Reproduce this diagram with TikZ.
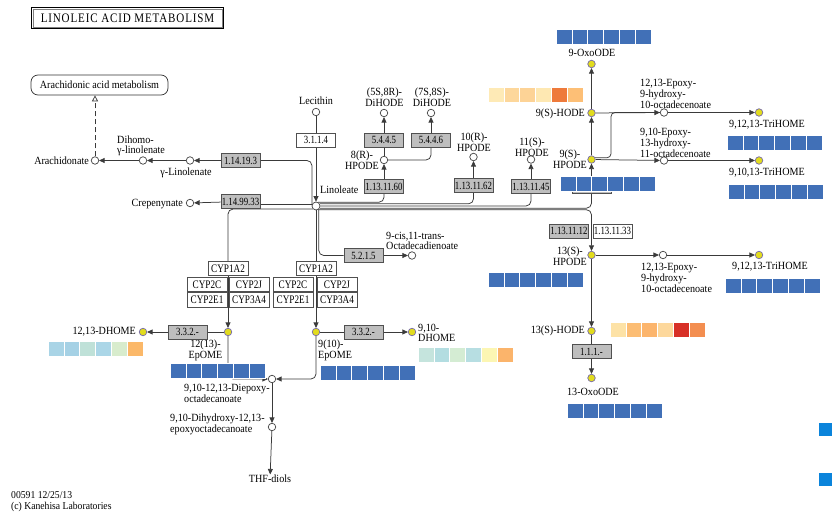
\documentclass[tikz,border=0pt]{standalone}
\usepackage{fontspec}
\setmainfont{Liberation Serif}[FakeStretch=0.92]
\newfontfamily\titlefont{Liberation Serif}[FakeStretch=0.85,LetterSpace=6.5]
\newfontfamily\boxfont{Liberation Serif}[FakeStretch=0.8]
\usetikzlibrary{arrows.meta,calc}

\definecolor{linec}{HTML}{3A3A3A}
\definecolor{boxline}{HTML}{505050}
\definecolor{enzfill}{HTML}{BEBEBE}
\definecolor{cpdline}{HTML}{404040}
\definecolor{ylw}{HTML}{E2DC1E}
\definecolor{ylwline}{HTML}{7468A8}
\definecolor{barblue}{HTML}{4170B7}
\definecolor{legblue}{HTML}{0B84DB}
% expression colours
\definecolor{hA1}{HTML}{FEEAB6}\definecolor{hA2}{HTML}{FDD79B}\definecolor{hA3}{HTML}{FDD396}
\definecolor{hA4}{HTML}{FEE8B2}\definecolor{hA5}{HTML}{EE7A3B}\definecolor{hA6}{HTML}{FDBF76}
\definecolor{hB1}{HTML}{FDE2A6}\definecolor{hB2}{HTML}{FCBD74}\definecolor{hB3}{HTML}{FCB56C}
\definecolor{hB4}{HTML}{FDD89C}\definecolor{hB5}{HTML}{D73027}\definecolor{hB6}{HTML}{F38E50}
\definecolor{hC1}{HTML}{A9D4E6}\definecolor{hC2}{HTML}{A5D1E5}\definecolor{hC3}{HTML}{BFE1D8}
\definecolor{hC4}{HTML}{ABD6E7}\definecolor{hC5}{HTML}{D8ECCD}\definecolor{hC6}{HTML}{FBB869}
\definecolor{hD1}{HTML}{C5E4DD}\definecolor{hD2}{HTML}{B3DDE1}\definecolor{hD3}{HTML}{D4ECD3}
\definecolor{hD4}{HTML}{B7DEE2}\definecolor{hD5}{HTML}{FCF6B3}\definecolor{hD6}{HTML}{FBB46B}

\pgfdeclarelayer{bg}
\pgfsetlayers{bg,main}

% a row of six coloured cells, top-left corner at (#1,#2)
\newcommand{\cellrow}[3]{%
  \foreach \cc [count=\ii from 0] in {#3} {
    \fill[fill=\cc] ({#1+\ii*15.83},#2) rectangle ++(15.83,15);
    \draw[white, line width=0.6pt] ({#1+\ii*15.83},#2) rectangle ++(15.83,15);
  }}
\newcommand{\bluebar}[2]{\cellrow{#1}{#2}{barblue,barblue,barblue,barblue,barblue,barblue}}

\tikzset{
  cpd/.style={circle, draw=cpdline, fill=white, line width=0.7pt, minimum size=7.5pt, inner sep=0pt},
  ycpd/.style={cpd, fill=ylw, draw=ylwline},
  enz/.style={rectangle, draw=boxline, fill=enzfill, line width=0.7pt, minimum width=39pt,
    minimum height=14pt, inner sep=0pt, font=\boxfont\fontsize{11}{11}\selectfont},
  wenz/.style={enz, fill=white},
  cyp/.style={wenz, minimum width=40pt, minimum height=14.5pt, font=\boxfont\fontsize{11.5}{11}\selectfont},
  lbl/.style={inner sep=0pt, font=\fontsize{11}{9.5}\selectfont, align=center, text=black},
  rx/.style={draw=linec, line width=0.75pt},
  arr/.style={rx, -{Triangle[length=5.5pt,width=5pt]}},
}

\begin{document}
\begin{tikzpicture}[x=1pt,y=-1pt]
\useasboundingbox (0,0) rectangle (832,518);
\begin{pgfonlayer}{bg}
\fill[white] (0,0) rectangle (832,518);
\end{pgfonlayer}

% ---- title and map link
\node[draw=black, line width=1.6pt, minimum width=192pt, minimum height=21pt, inner sep=0pt,
  font=\titlefont\fontsize{13}{13}\selectfont] (title) at (127.5,18) {LINOLEIC ACID METABOLISM};
\draw[gray, line width=0.5pt] ([shift={(2.2,2.2)}]title.north west) rectangle ([shift={(-2.2,-2.2)}]title.south east);
\node[lbl, draw=black!80, line width=0.7pt, rounded corners=7pt, minimum width=137pt, minimum height=20pt] (aamap) at (99.5,85) {Arachidonic acid metabolism};

% ---- upper left: desaturation branch
\node[cpd] (arach) at (95,160.5) {};
\node[lbl, anchor=east] (arachL) at (89,161) {Arachidonate};
\node[cpd] (dgla) at (143,160.5) {};
\node[lbl, anchor=south west, align=left] (dglaL) at (117,156) {Dihomo-\\γ-linolenate};
\node[cpd] (gla) at (190,160.5) {};
\node[lbl] (glaL) at (186,173) {γ-Linolenate};
\node[enz] (e11419) at (240.5,160.5) {1.14.19.3};
\node[cpd] (crep) at (190,203) {};
\node[lbl, anchor=east] (crepL) at (183,204) {Crepenynate};
\node[enz] (e114993) at (240.5,201.5) {1.14.99.33};

% ---- linoleate and lecithin
\node[cpd] (lec) at (316,112) {};
\node[lbl] (lecL) at (316,101) {Lecithin};
\node[wenz] (e3114) at (316,140) {3.1.1.4};
\node[cpd, minimum size=8pt] (lin) at (316,206) {};
\node[lbl, anchor=west] (linL) at (320,190) {Linoleate};

% ---- 8(R), 10(R), 11(S) hydroperoxides
\node[cpd] (dh58) at (384,113) {};
\node[lbl] (dh58L) at (384.5,97) {(5S,8R)-\\DiHODE};
\node[enz] (e5445) at (384,140) {5.4.4.5};
\node[cpd] (dh78) at (431,113) {};
\node[lbl] (dh78L) at (432,97) {(7S,8S)-\\DiHODE};
\node[enz] (e5446) at (431,140) {5.4.4.6};
\node[cpd] (hp8) at (384,160) {};
\node[lbl, anchor=east] (hp8L) at (379,160.5) {8(R)-\\HPODE};
\node[enz] (e60) at (384,186.5) {1.13.11.60};
\node[cpd] (hp10) at (473.5,157) {};
\node[lbl] (hp10L) at (474,142) {10(R)-\\HPODE};
\node[enz] (e62) at (473.5,185.5) {1.13.11.62};
\node[cpd] (hp11) at (531,159.5) {};
\node[lbl] (hp11L) at (532,147) {11(S)-\\HPODE};
\node[enz] (e45) at (531,186.5) {1.13.11.45};

% ---- 9(S) branch
\node[ycpd] (oxo9) at (591.5,64) {};
\node[lbl] (oxo9L) at (592,53) {9-OxoODE};
\node[ycpd] (hode9) at (591.5,113) {};
\node[lbl, anchor=east] (hode9L) at (585,113.5) {9(S)-HODE};
\node[ycpd] (hp9) at (591.5,159.5) {};
\node[lbl, anchor=east] (hp9L) at (587,159) {9(S)-\\HPODE};
\node[enz] (e58) at (591.5,186.5) {};
\node[cpd] (ep1) at (664,112.5) {};
\node[lbl, anchor=west, align=left] (ep1L) at (640,94) {12,13-Epoxy-\\9-hydroxy-\\10-octadecenoate};
\node[ycpd] (th1) at (759,112.5) {};
\node[lbl] (th1L) at (767,125) {9,12,13-TriHOME};
\node[cpd] (ep2) at (664,160.5) {};
\node[lbl, anchor=west, align=left] (ep2L) at (640,143) {9,10-Epoxy-\\13-hydroxy-\\11-octadecenoate};
\node[ycpd] (th2) at (759,160.5) {};
\node[lbl] (th2L) at (767,173) {9,10,13-TriHOME};
\coordinate (hpj) at (611,112.5);

% ---- 13(S) branch
\node[enz] (e12) at (569,231) {1.13.11.12};
\node[wenz] (e33) at (612.5,231) {1.13.11.33};
\node[ycpd] (hp13) at (591.5,255) {};
\node[lbl, anchor=east] (hp13L) at (587,256) {13(S)-\\HPODE};
\node[cpd] (ep3) at (663,255) {};
\node[lbl, anchor=west, align=left] (ep3L) at (641,278) {12,13-Epoxy-\\9-hydroxy-\\10-octadecenoate};
\node[ycpd] (th3) at (759,255) {};
\node[lbl] (th3L) at (770,267) {9,12,13-TriHOME};
\node[ycpd] (hode13) at (591.5,331) {};
\node[lbl, anchor=east] (hode13L) at (585,331) {13(S)-HODE};
\node[enz] (e111) at (591.5,351.5) {1.1.1.-};
\node[ycpd] (oxo13) at (591.5,378) {};
\node[lbl] (oxo13L) at (593,392) {13-OxoODE};

% ---- epoxygenase branches
\node[cyp] (cA1) at (228,268.5) {CYP1A2};
\node[cyp] (cA2) at (207,284.5) {CYP2C};
\node[cyp] (cA3) at (249,284.5) {CYP2J};
\node[cyp] (cA4) at (207,300) {CYP2E1};
\node[cyp] (cA5) at (249,300) {CYP3A4};
\node[ycpd] (epo12) at (228,332) {};
\node[lbl] (epo12L) at (205.5,350.5) {12(13)-\\EpOME};
\node[enz] (e332a) at (187.5,332) {3.3.2.-};
\node[ycpd] (dh12) at (143,332) {};
\node[lbl, anchor=east] (dh12L) at (136,332) {12,13-DHOME};

\node[cyp] (cB1) at (316,268.5) {CYP1A2};
\node[cyp] (cB2) at (293,284.5) {CYP2C};
\node[cyp] (cB3) at (337,284.5) {CYP2J};
\node[cyp] (cB4) at (293,300) {CYP2E1};
\node[cyp] (cB5) at (337,300) {CYP3A4};
\node[ycpd] (epo9) at (316,332) {};
\node[lbl, anchor=west, align=left] (epo9L) at (318,350.5) {9(10)-\\EpOME};
\node[enz] (e332b) at (363.5,332) {3.3.2.-};
\node[ycpd] (dh9) at (412,332) {};
\node[lbl, anchor=west, align=left] (dh9L) at (418,333) {9,10-\\DHOME};
\node[enz] (e5215) at (363.5,255.5) {5.2.1.5};
\node[cpd] (octa) at (412,255.5) {};
\node[lbl, anchor=west, align=left] (octaL) at (386,241) {9-cis,11-trans-\\Octadecadienoate};

\node[cpd] (diep) at (272,379) {};
\node[lbl, anchor=west, align=left] (diepL) at (184,393) {9,10-12,13-Diepoxy-\\octadecanoate};
\node[cpd] (dihy) at (272,427) {};
\node[lbl, anchor=west, align=left] (dihyL) at (170,424.5) {9,10-Dihydroxy-12,13-\\epoxyoctadecanoate};
\node[lbl] (thf) at (270,478.5) {THF-diols};

% ---- footer and legend marks
\node[lbl, anchor=west, align=left, font=\fontsize{10.5}{11}\selectfont] (foot) at (11,502) {00591 12/25/13\\(c) Kanehisa Laboratories};
\node[fill=legblue, minimum size=13pt, inner sep=0pt, anchor=north west] (leg1) at (819,423) {};
\node[fill=legblue, minimum size=13pt, inner sep=0pt, anchor=north west] (leg2) at (819,473) {};

% ---- data bars
\bluebar{556}{29}
\cellrow{488}{87}{hA1,hA2,hA3,hA4,hA5,hA6}
\bluebar{727}{135}
\bluebar{560}{176}
\bluebar{728}{184}
\bluebar{488}{272}
\bluebar{725}{278}
\cellrow{610}{322}{hB1,hB2,hB3,hB4,hB5,hB6}
\bluebar{567}{403}
\cellrow{48}{341}{hC1,hC2,hC3,hC4,hC5,hC6}
\bluebar{170}{363}
\bluebar{320}{365}
\cellrow{418}{347}{hD1,hD2,hD3,hD4,hD5,hD6}

% ---- reactions
\begin{pgfonlayer}{bg}
\draw[rx, dash pattern=on 5pt off 3pt, -{Triangle[open,length=6pt,width=6pt]}] (arach) -- (arach |- aamap.south);
\draw[arr] (e11419) -- (gla);
\draw[arr] (gla) -- (dgla);
\draw[arr] (dgla) -- (arach);
\draw[rx, rounded corners=5pt] (e11419.east) -| (lin.160);
\draw[arr] (e114993) -- (crep);
\draw[rx] (lin.160) -- (lin.160 -| e114993.east);
\draw[rx, rounded corners=5pt] (lin.-135) -| (cA1.north);
\draw[rx] (lec) -- (e3114);
\draw[arr] (e3114) -- (lin);

\draw[rx, rounded corners=5pt] (lin.60) -| (e60.south);
\draw[rx, rounded corners=5pt] (lin.30) -| (e62.south);
\draw[rx, rounded corners=5pt] (lin.0) -| (e45.south);
\draw[rx, rounded corners=5pt] (lin.-30) -| (e58.south);
\draw[arr, rounded corners=5pt] (lin.-60) -| (hp13);
\draw[rx] (lin) -- (cB1);
\draw[rx, rounded corners=5pt] (lin.-50) |- (e5215);
\draw[arr] (e5215) -- (octa);

\draw[arr] (e60) -- (hp8);
\draw[rx] (hp8) -- (e5445);
\draw[rx, rounded corners=5pt] (hp8) -| (e5446);
\draw[arr] (e5445) -- (dh58);
\draw[arr] (e5446) -- (dh78);
\draw[arr] (e62) -- (hp10);
\draw[arr] (e45) -- (hp11);

\draw[arr] (e58) -- (hp9);
\draw[arr] (hp9) -- (hode9);
\draw[arr] (hode9) -- (oxo9);
\draw[arr] (hode9) -- (ep1);
\draw[arr] (ep1) -- (th1);
\draw[arr] (hp9) -- (ep2);
\draw[arr] (ep2) -- (th2);
\draw[rx, rounded corners=4pt] (hp9.25) -| (hpj) -- (ep1);

\draw[arr] (hp13) -- (ep3);
\draw[arr] (ep3) -- (th3);
\draw[arr] (hp13) -- (hode13);
\draw[rx] (hode13) -- (e111);
\draw[arr] (e111) -- (oxo13);

\draw[arr] (cA1) -- (epo12);
\draw[rx] (epo12) -- (e332a);
\draw[arr] (e332a) -- (dh12);
\draw[arr, rounded corners=5pt] (epo12) |- (diep);
\draw[arr] (cB1) -- (epo9);
\draw[rx] (epo9) -- (e332b);
\draw[arr] (e332b) -- (dh9);
\draw[arr, rounded corners=5pt] (epo9) |- (diep);
\draw[arr] (diep) -- (dihy);
\draw[arr] (dihy) -- (thf);
\end{pgfonlayer}
\end{tikzpicture}
\end{document}
